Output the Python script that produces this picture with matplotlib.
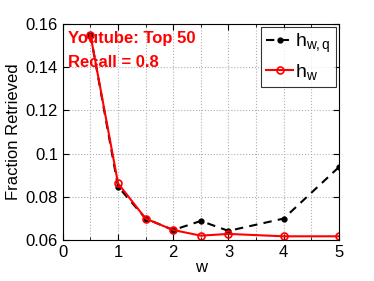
import matplotlib
matplotlib.use("Agg")
import matplotlib.pyplot as plt
from matplotlib.ticker import MultipleLocator

plt.rcParams['font.family'] = ['Liberation Sans', 'DejaVu Sans']
plt.rcParams['mathtext.fontset'] = 'custom'
plt.rcParams['mathtext.rm'] = 'Liberation Sans'
plt.rcParams['mathtext.it'] = 'Liberation Sans'

w = [0.5, 1, 1.5, 2, 2.5, 3, 4, 5]
h_wq = [0.155, 0.0847, 0.0699, 0.0646, 0.0688, 0.0642, 0.0699, 0.0937]
h_w = [0.155, 0.0862, 0.0699, 0.0646, 0.0620, 0.0628, 0.0617, 0.0617]

fig = plt.figure(figsize=(3.74, 2.81), dpi=100)
ax = fig.add_axes([0.168, 0.146, 0.738, 0.769])

ax.plot(w, h_wq, color='black', linestyle='--', linewidth=1.5, marker='o',
        markersize=3.5, markerfacecolor='black', label=r'$\mathrm{h}_{\mathrm{w,q}}$', dashes=(4, 3))
ax.plot(w, h_w, color='red', linestyle='-', linewidth=1.5, marker='o',
        markersize=5, markerfacecolor='none', markeredgewidth=1.2, label=r'$\mathrm{h}_{\mathrm{w}}$')

ax.set_xlim(0, 5)
ax.set_ylim(0.06, 0.16)
ax.set_xticks([0, 1, 2, 3, 4, 5])
ax.xaxis.set_minor_locator(MultipleLocator(0.5))
ax.set_yticks([0.06, 0.08, 0.1, 0.12, 0.14, 0.16])
ax.set_yticklabels(['0.06', '0.08', '0.1', '0.12', '0.14', '0.16'])
ax.grid(True, which='both', linestyle=':', color='#b0b0b0', linewidth=0.8)
ax.tick_params(direction='in', top=True, right=True, labelsize=12, length=4)
ax.tick_params(which='minor', direction='in', top=True, right=True, length=2)

ax.set_xlabel('w', fontsize=12, labelpad=0)
ax.set_ylabel('Fraction Retrieved', fontsize=12, labelpad=3)

ax.text(0.02, 0.965, 'Youtube: Top 50', transform=ax.transAxes, color='red',
        fontsize=12, fontweight='bold', va='top', ha='left')
ax.text(0.02, 0.855, 'Recall = 0.8', transform=ax.transAxes, color='red',
        fontsize=12, fontweight='bold', va='top', ha='left')

leg = ax.legend(loc='upper right', fontsize=14, frameon=True, fancybox=False,
                edgecolor='black', handlelength=1.4, handletextpad=0.1,
                borderpad=0.25, labelspacing=0.35, borderaxespad=0.15)
leg.get_frame().set_linewidth(0.8)

fig.savefig('out.png', dpi=100)
